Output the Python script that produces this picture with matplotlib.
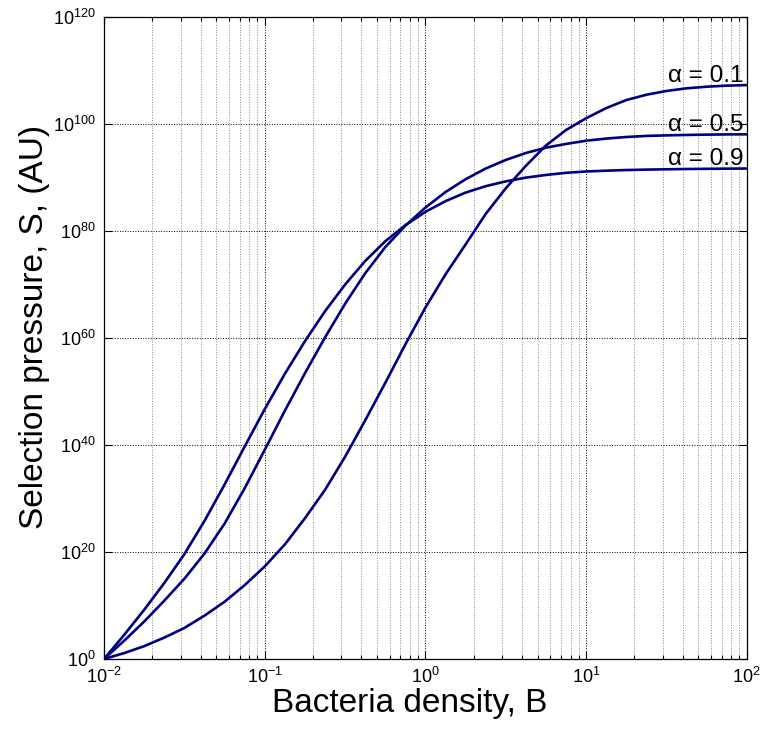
import numpy as np
import matplotlib
matplotlib.use('Agg')
import matplotlib.pyplot as plt
from matplotlib.ticker import LogLocator, FixedLocator

plt.rcParams['font.family'] = ['Liberation Sans', 'DejaVu Sans']
plt.rcParams['mathtext.fontset'] = 'custom'
plt.rcParams['mathtext.rm'] = 'Liberation Sans'
plt.rcParams['mathtext.it'] = 'Liberation Sans:italic'
plt.rcParams['mathtext.bf'] = 'Liberation Sans:bold'

# bacteria density, as powers of ten (1e-2 .. 1e2)
b_exp = [-2.0, -1.875, -1.75, -1.625, -1.5, -1.375, -1.25, -1.125,
         -1.0, -0.875, -0.75, -0.625, -0.5, -0.375, -0.25, -0.125,
         0.0, 0.125, 0.25, 0.375, 0.5, 0.625, 0.75, 0.875,
         1.0, 1.125, 1.25, 1.375, 1.5, 1.625, 1.75, 1.875, 2.0]

# selection pressure, as powers of ten
s_exp_01 = [0.0, 1.1, 2.4, 4.0, 5.8, 8.1, 10.7, 13.8,
            17.3, 21.4, 26.3, 31.6, 37.8, 44.6, 51.6, 58.8,
            65.7, 71.9, 77.5, 83.2, 88.0, 92.2, 96.0, 98.9,
            101.1, 103.0, 104.5, 105.5, 106.2, 106.7, 107.0, 107.2, 107.3]
s_exp_05 = [0.0, 3.4, 7.0, 10.9, 15.0, 19.7, 25.3, 31.9,
            39.1, 46.4, 53.4, 60.1, 66.4, 72.1, 77.0, 81.0,
            84.4, 87.3, 89.7, 91.7, 93.3, 94.6, 95.6, 96.3,
            96.9, 97.3, 97.6, 97.8, 97.9, 97.98, 98.04, 98.08, 98.1]
s_exp_09 = [0.0, 4.5, 9.2, 14.2, 19.6, 25.8, 32.6, 39.7,
            46.7, 53.3, 59.4, 65.0, 70.0, 74.4, 78.1, 81.1,
            83.6, 85.6, 87.2, 88.4, 89.3, 90.0, 90.5, 90.9,
            91.15, 91.3, 91.42, 91.5, 91.56, 91.61, 91.65, 91.68, 91.7]

alphas = ['0.1', '0.5', '0.9']
curves = [s_exp_01, s_exp_05, s_exp_09]

line_color = '#000080'

fig = plt.figure(figsize=(7.62, 7.31), dpi=100)
ax = fig.add_axes([0.1365, 0.0985, 0.8435, 0.878])

B = 10.0 ** np.array(b_exp)
for a, s in zip(alphas, curves):
    S = 10.0 ** np.array(s)
    ax.plot(B, S, color=line_color, lw=1.9, solid_capstyle='round',
            solid_joinstyle='round')
    ax.text(95, 10.0 ** (s[-1] + 0.6), '\u03b1 = ' + a, ha='right',
            va='baseline', fontsize=17.5)

ax.set_xscale('log')
ax.set_yscale('log')
ax.set_xlim(1e-2, 1e2)
ax.set_ylim(1e0, 1e120)

ax.xaxis.set_major_locator(LogLocator(base=10, numticks=10))
ax.xaxis.set_minor_locator(LogLocator(base=10, subs=np.arange(2, 10), numticks=20))
ax.yaxis.set_major_locator(FixedLocator([10.0 ** k for k in range(0, 121, 20)]))
ax.yaxis.set_minor_locator(FixedLocator([]))
ax.set_yticklabels(['$10^{%d}$' % k for k in range(0, 121, 20)])

ax.tick_params(which='both', direction='in', top=True, right=True,
               labelsize=13, width=0.8)
ax.tick_params(which='major', length=6, pad=6)
ax.tick_params(which='minor', length=3)

ax.grid(True, which='major', linestyle=':', color='black', lw=0.7)
ax.grid(True, which='minor', axis='x', linestyle=':', color='0.55', lw=0.7)
for sp in ax.spines.values():
    sp.set_linewidth(0.9)

ax.set_xlabel('Bacteria density, B', fontsize=24)
ax.set_ylabel('Selection pressure, S, (AU)', fontsize=24)
ax.xaxis.set_label_coords(0.476, -0.045)
ax.yaxis.set_label_coords(-0.084, 0.517)

fig.savefig('out.png', dpi=100)
